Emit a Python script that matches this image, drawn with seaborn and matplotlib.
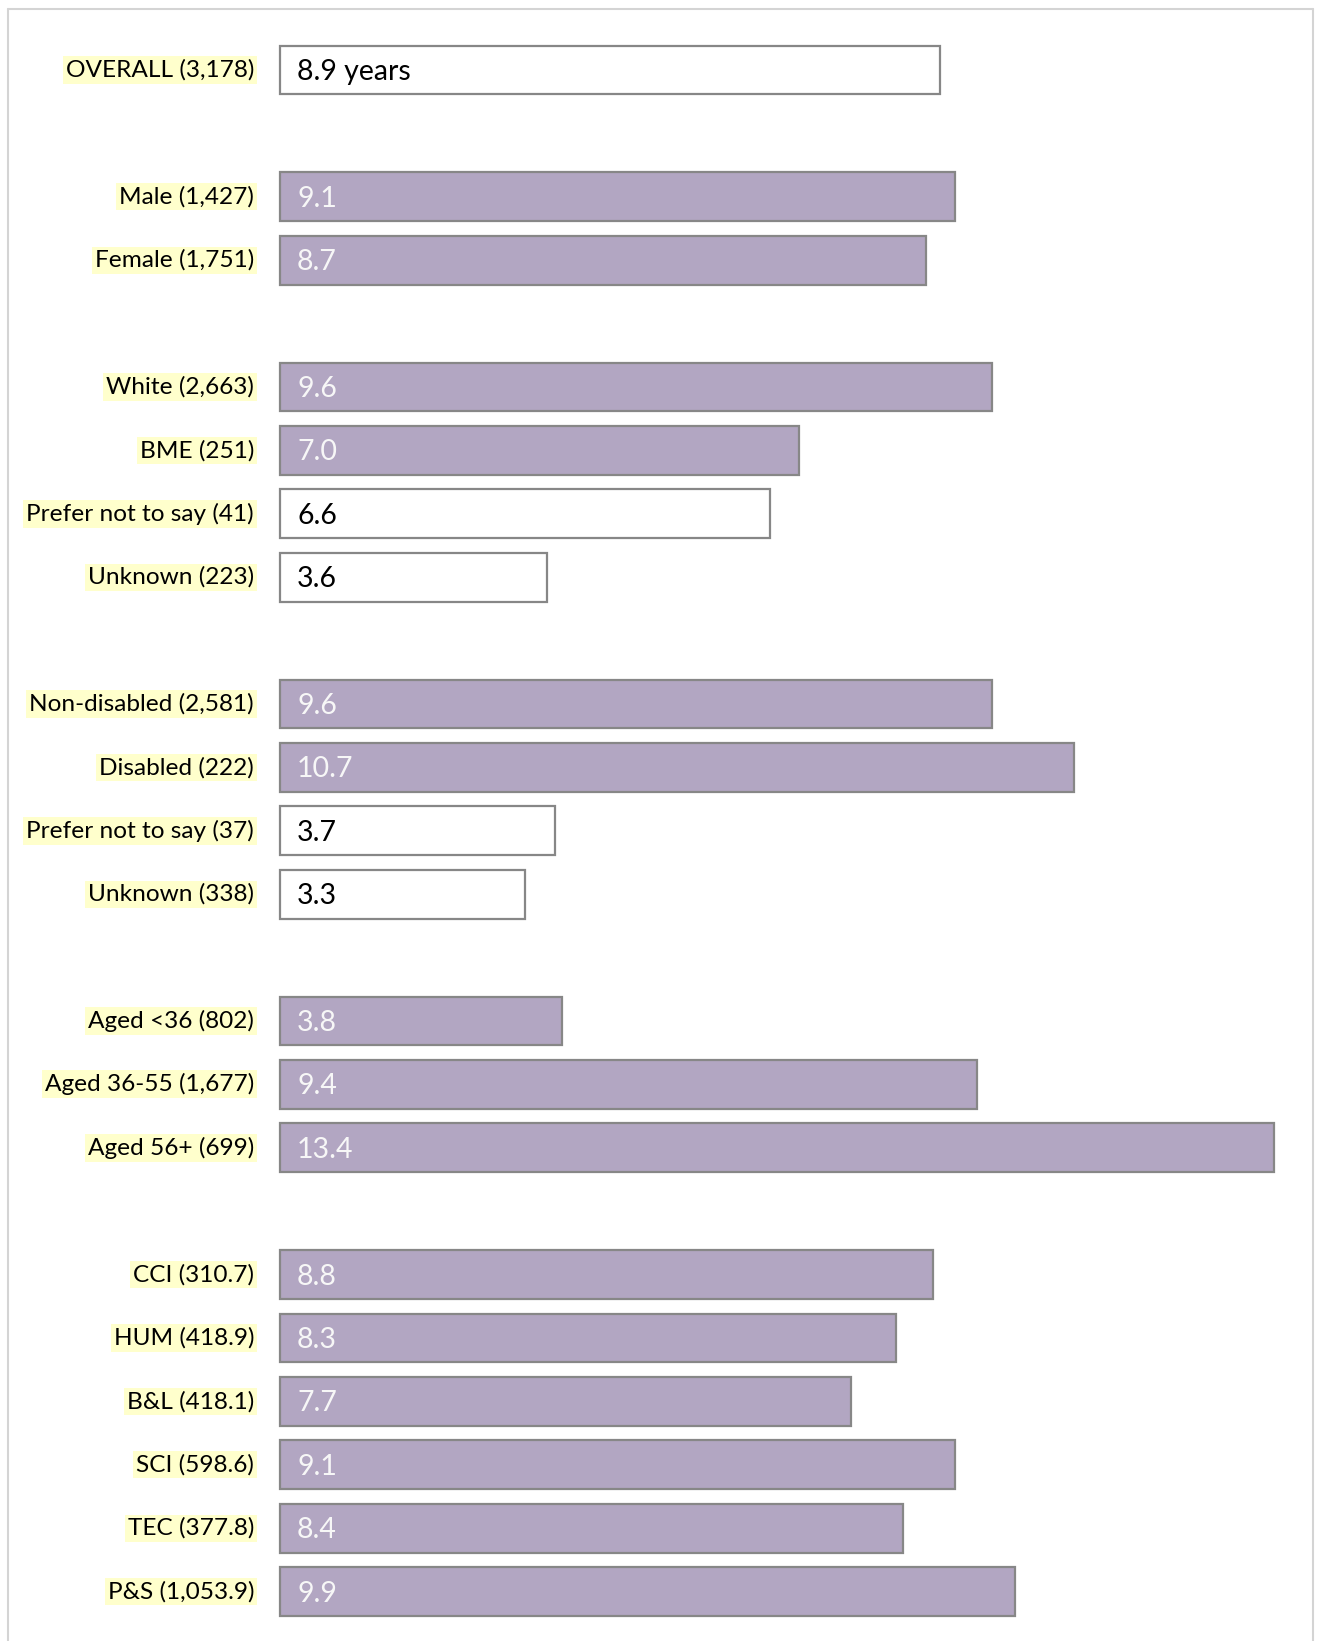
import matplotlib
matplotlib.use("Agg")
import matplotlib.pyplot as plt
import matplotlib.transforms as mtransforms
from matplotlib.lines import Line2D
import seaborn as sns
import pandas as pd

# Average length of service (years) by staff group; headcount / FTE in brackets
overall_labels = ["OVERALL (3,178)"]
overall_values = [8.9]

gender_labels = ["Male (1,427)", "Female (1,751)"]
gender_values = [9.1, 8.7]

ethnicity_labels = ["White (2,663)", "BME (251)", "Prefer not to say (41)", "Unknown (223)"]
ethnicity_values = [9.6, 7.0, 6.6, 3.6]

disability_labels = ["Non-disabled (2,581)", "Disabled (222)", "Prefer not to say (37)", "Unknown (338)"]
disability_values = [9.6, 10.7, 3.7, 3.3]

age_labels = ["Aged <36 (802)", "Aged 36-55 (1,677)", "Aged 56+ (699)"]
age_values = [3.8, 9.4, 13.4]

faculty_labels = ["CCI (310.7)", "HUM (418.9)", "B&L (418.1)", "SCI (598.6)", "TEC (377.8)", "P&S (1,053.9)"]
faculty_values = [8.8, 8.3, 7.7, 9.1, 8.4, 9.9]

# rows shown as open (unfilled) boxes
open_rows = {"OVERALL (3,178)", "Prefer not to say (41)", "Unknown (223)",
             "Prefer not to say (37)", "Unknown (338)"}

groups = [
    (overall_labels, overall_values),
    (gender_labels, gender_values),
    (ethnicity_labels, ethnicity_values),
    (disability_labels, disability_values),
    (age_labels, age_values),
    (faculty_labels, faculty_values),
]

# Build the category order with a blank spacer row between groups
order, rows = [], []
for gi, (labels, values) in enumerate(groups):
    if gi > 0:
        order.append(" " * gi)
    for lab, val in zip(labels, values):
        order.append(lab)
        rows.append({"label": lab, "value": val,
                     "kind": "open" if lab in open_rows else "filled"})
df = pd.DataFrame(rows)

PURPLE = "#B1A1C7"
EDGE = "#878787"

sns.set_theme(style="white")
plt.rcParams["font.family"] = ["Lato", "DejaVu Sans"]

W, H, DPI = 1317, 1641, 100
fig = plt.figure(figsize=(W / DPI, H / DPI), dpi=DPI)
ax = fig.add_axes([0, 0, 1, 1])

sns.barplot(data=df, x="value", y="label", hue="kind", order=order,
            hue_order=["filled", "open"],
            palette={"filled": PURPLE, "open": "white"},
            dodge=False, width=0.77, orient="h", legend=False,
            edgecolor=EDGE, linewidth=1.6, ax=ax)

# pixel layout of the value axis
x0_px, px_per_unit = 280, 74.2
ax.set_xlim(-x0_px / px_per_unit, (W - x0_px) / px_per_unit)
row_px, first_px = 63.4, 70
ax.set_ylim((H - first_px) / row_px, -first_px / row_px)

for s in ax.spines.values():
    s.set_visible(False)
ax.set_xticks([])
ax.set_xlabel("")
ax.set_ylabel("")
ax.set_yticks([])

pos = {lab: i for i, lab in enumerate(order)}
lab_tr = mtransforms.offset_copy(ax.transData, fig=fig, x=-26, y=0, units="dots")
val_tr = mtransforms.offset_copy(ax.transData, fig=fig, x=17, y=-2, units="dots")
for r in rows:
    y = pos[r["label"]]
    ax.text(0, y, r["label"], transform=lab_tr, ha="right", va="center",
            fontsize=17.6, color="black",
            bbox=dict(boxstyle="square,pad=0.12", facecolor="#FFFFCC", edgecolor="none"))
    txt = f"{r['value']:.1f}"
    if r["label"].startswith("OVERALL"):
        txt += " years"
    ax.text(0, y, txt, transform=val_tr, ha="left", va="center",
            fontsize=20.5,
            color="black" if r["kind"] == "open" else "#F7F7F7")

# light frame around the panel
frame = "#D4D4D4"
fig.add_artist(Line2D([8 / W, 8 / W], [0, 1 - 9 / H], color=frame, lw=1.5, transform=fig.transFigure))
fig.add_artist(Line2D([1313 / W, 1313 / W], [0, 1 - 9 / H], color=frame, lw=1.5, transform=fig.transFigure))
fig.add_artist(Line2D([8 / W, 1313 / W], [1 - 9 / H, 1 - 9 / H], color=frame, lw=1.5, transform=fig.transFigure))

fig.savefig("out.png", dpi=DPI, facecolor="white")
